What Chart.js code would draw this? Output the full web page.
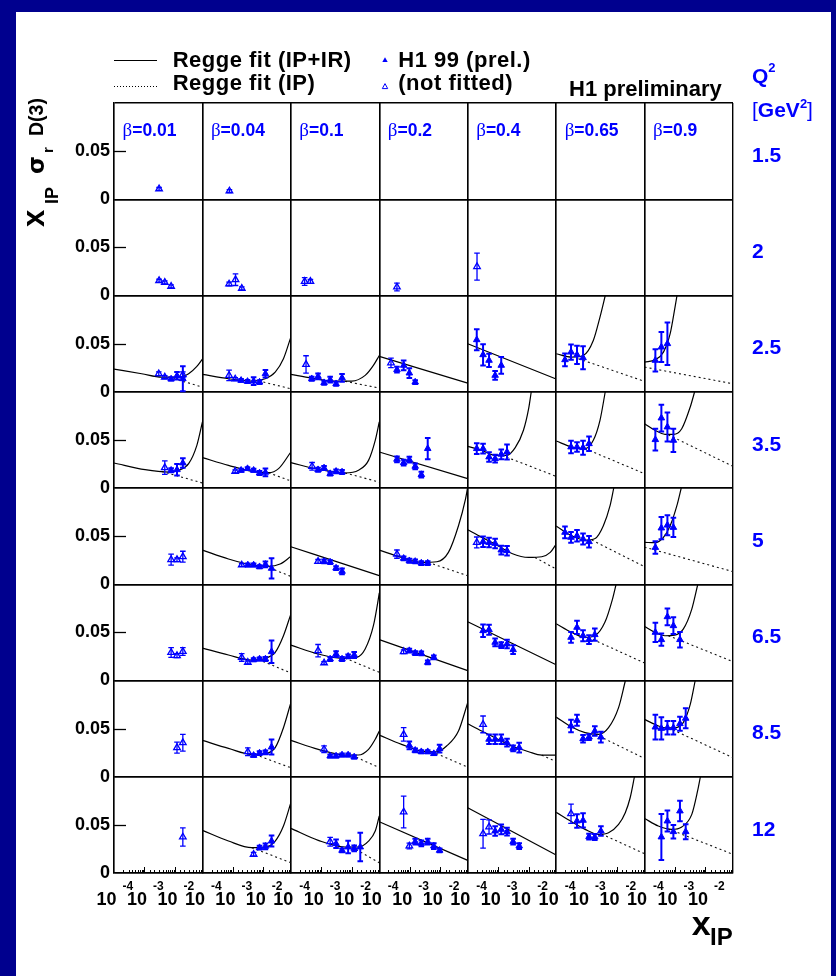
<!DOCTYPE html>
<html>
<head>
<meta charset="utf-8">
<script src="https://cdn.jsdelivr.net/npm/chart.js@4.4.1/dist/chart.umd.min.js"></script>
<style>
  html, body { margin: 0; padding: 0; }
  body { width: 836px; height: 976px; position: relative; overflow: hidden; background: #00008e;
         font-family: "Liberation Sans", Arial, Helvetica, sans-serif; }
  #sheet { position: absolute; left: 16px; top: 12px; width: 815px; height: 964px; background: #fff; }
  #plot { position: absolute; left: 0; top: 0; }
  .t { position: absolute; white-space: nowrap; line-height: 1; font-weight: bold; color: #000; }
  .blue { color: #0000ff; }
  .sym { font-family: "Liberation Serif", "DejaVu Serif", serif; font-weight: normal; }
</style>
</head>
<body>
<div id="sheet"></div>
<canvas id="plot" width="836" height="976"></canvas>
<svg style="position:absolute;left:0;top:0" width="836" height="110">
  <line x1="114" y1="60.5" x2="157" y2="60.5" stroke="#000" stroke-width="1.2"/>
  <line x1="114" y1="86.5" x2="157" y2="86.5" stroke="#000" stroke-width="1" stroke-dasharray="1,2"/>
  <polygon points="385,57.2 382.3,62 387.7,62" fill="#0000ff"/>
  <polygon points="385,83.6 382.3,88.6 387.7,88.6" fill="none" stroke="#0000ff" stroke-width="1"/>
</svg>
<script>
// columns (beta) and rows (Q2 in GeV^2)
const betaLabels = ['0.01', '0.04', '0.1', '0.2', '0.4', '0.65', '0.9'];
const q2Labels = ['1.5', '2', '2.5', '3.5', '5', '6.5', '8.5', '12'];
const decadeTicks = [1e-4, 1e-3, 1e-2];
const decadeExps = ['-4', '-3', '-2'];
const yTickValues = [0, 0.05, 0.1];
const yTickLabels = ['0', '0.05', ''];

// points per beta column: [x_IP, x_IP*sigma_r, error, fitted (1) / not fitted (0)]
const pts_Q2_1_5 = [
  [[0.00302, 0.0107, 0.0015, 0]],
  [[0.00077, 0.0085, 0.0015, 0]],
  [], [], [], [], []
];
const pts_Q2_2 = [
  [[0.00302, 0.0154, 0.0015, 0], [0.00465, 0.0136, 0.0015, 0], [0.0075, 0.0095, 0.0015, 0]],
  [[0.00075, 0.0119, 0.002, 0], [0.00122, 0.0164, 0.006, 0], [0.00196, 0.0074, 0.0015, 0]],
  [[0.000284, 0.0146, 0.004, 0], [0.000438, 0.0146, 0.002, 0]],
  [[0.00038, 0.0088, 0.004, 0]],
  [[0.000202, 0.030, 0.014, 0]],
  [], []
];
const pts_Q2_2_5 = [
  [[0.00295, 0.0187, 0.002, 0], [0.00465, 0.0152, 0.0015, 0], [0.0075, 0.0132, 0.0015, 1], [0.0117, 0.0166, 0.004, 1], [0.0182, 0.0177, 0.003, 0], [0.0182, 0.0135, 0.013, 1]],
  [[0.00075, 0.017, 0.0055, 0], [0.00119, 0.0132, 0.0015, 0], [0.00186, 0.0118, 0.0015, 1], [0.00302, 0.0107, 0.0015, 1], [0.00479, 0.0111, 0.004, 1], [0.0075, 0.01, 0.002, 1], [0.0117, 0.0187, 0.004, 1]],
  [[0.000315, 0.0284, 0.009, 0], [0.000484, 0.0135, 0.002, 1], [0.000782, 0.0159, 0.003, 1], [0.00123, 0.0094, 0.002, 1], [0.00195, 0.0125, 0.003, 1], [0.00305, 0.0083, 0.002, 1], [0.00479, 0.0145, 0.004, 1]],
  [[0.000242, 0.03, 0.005, 0], [0.00038, 0.0229, 0.003, 1], [0.000631, 0.0274, 0.005, 1], [0.00097, 0.0194, 0.005, 1], [0.00151, 0.01, 0.002, 1]],
  [[0.000198, 0.054, 0.011, 1], [0.000319, 0.0384, 0.011, 1], [0.000501, 0.0326, 0.007, 1], [0.000794, 0.017, 0.0045, 1], [0.00126, 0.0274, 0.0087, 1]],
  [[0.000195, 0.0332, 0.0066, 1], [0.000308, 0.0412, 0.008, 1], [0.000484, 0.0384, 0.0095, 1], [0.000764, 0.0353, 0.012, 1]],
  [[0.000226, 0.0326, 0.0116, 1], [0.000356, 0.0464, 0.0156, 1], [0.000562, 0.0499, 0.022, 1]]
];
const pts_Q2_3_5 = [
  [[0.00465, 0.0211, 0.007, 0], [0.0075, 0.0184, 0.002, 1], [0.0117, 0.019, 0.006, 1], [0.0182, 0.026, 0.005, 1]],
  [[0.00119, 0.0173, 0.0015, 0], [0.00186, 0.0184, 0.0015, 1], [0.00302, 0.0201, 0.0015, 1], [0.00479, 0.0184, 0.0015, 1], [0.0075, 0.0156, 0.002, 1], [0.0117, 0.0163, 0.004, 1]],
  [[0.000498, 0.0225, 0.004, 0], [0.000782, 0.019, 0.002, 1], [0.00123, 0.0208, 0.002, 1], [0.00195, 0.0149, 0.002, 1], [0.00305, 0.0173, 0.002, 1], [0.00479, 0.0166, 0.002, 1]],
  [[0.00038, 0.0298, 0.003, 1], [0.000631, 0.0263, 0.003, 1], [0.00097, 0.0294, 0.003, 1], [0.00151, 0.0225, 0.003, 1], [0.0024, 0.0139, 0.003, 1], [0.00389, 0.0409, 0.011, 1]],
  [[0.000198, 0.0409, 0.0055, 1], [0.000319, 0.0409, 0.005, 1], [0.000501, 0.0322, 0.005, 1], [0.000794, 0.0305, 0.004, 1], [0.00126, 0.035, 0.005, 1], [0.00195, 0.0374, 0.0078, 1]],
  [[0.000308, 0.0426, 0.0066, 1], [0.000484, 0.0426, 0.005, 1], [0.000764, 0.0419, 0.0073, 1], [0.0012, 0.046, 0.0076, 1]],
  [[0.000226, 0.0502, 0.0113, 1], [0.000356, 0.0727, 0.0139, 1], [0.000562, 0.0634, 0.015, 1], [0.000883, 0.0495, 0.0121, 1]]
];
const pts_Q2_5 = [
  [[0.0075, 0.0255, 0.0057, 0], [0.0117, 0.0255, 0.002, 0], [0.0182, 0.0286, 0.0057, 0]],
  [[0.00195, 0.02, 0.0015, 0], [0.00309, 0.02, 0.0015, 1], [0.00479, 0.02, 0.0015, 1], [0.0075, 0.0182, 0.0015, 1], [0.0117, 0.0206, 0.003, 1], [0.0186, 0.0165, 0.0104, 1]],
  [[0.000782, 0.0237, 0.002, 0], [0.00123, 0.0237, 0.002, 1], [0.00195, 0.023, 0.002, 1], [0.00305, 0.0168, 0.002, 1], [0.00479, 0.0134, 0.003, 1]],
  [[0.00038, 0.0313, 0.0043, 0], [0.000631, 0.0269, 0.002, 1], [0.00097, 0.0244, 0.002, 1], [0.00151, 0.0237, 0.002, 1], [0.0024, 0.022, 0.002, 1], [0.00389, 0.022, 0.002, 1]],
  [[0.000198, 0.0434, 0.0057, 0], [0.000319, 0.0442, 0.0055, 1], [0.000501, 0.0434, 0.005, 1], [0.000794, 0.0424, 0.005, 1], [0.00126, 0.0355, 0.0045, 1], [0.00195, 0.0348, 0.005, 1]],
  [[0.000195, 0.0539, 0.006, 1], [0.000308, 0.0487, 0.0055, 1], [0.000484, 0.0504, 0.006, 1], [0.000764, 0.047, 0.0057, 1], [0.0012, 0.0442, 0.006, 1]],
  [[0.000226, 0.0382, 0.0066, 1], [0.000356, 0.0584, 0.0116, 1], [0.000562, 0.0614, 0.0104, 1], [0.000883, 0.059, 0.01, 1]]
];
const pts_Q2_6_5 = [
  [[0.0075, 0.0291, 0.005, 0], [0.0117, 0.0258, 0.002, 0], [0.0182, 0.0302, 0.004, 0]],
  [[0.00195, 0.024, 0.004, 0], [0.00309, 0.0188, 0.0015, 0], [0.00479, 0.0216, 0.0015, 1], [0.0075, 0.0223, 0.0015, 1], [0.0117, 0.0223, 0.002, 1], [0.0186, 0.0299, 0.0116, 1]],
  [[0.000782, 0.031, 0.0064, 0], [0.00123, 0.0182, 0.0015, 0], [0.00195, 0.0223, 0.002, 1], [0.00305, 0.0275, 0.003, 1], [0.00479, 0.0223, 0.002, 1], [0.00759, 0.0251, 0.002, 1], [0.012, 0.0265, 0.003, 1]],
  [[0.000631, 0.0299, 0.002, 0], [0.00097, 0.031, 0.002, 1], [0.00151, 0.0285, 0.002, 1], [0.0024, 0.0282, 0.002, 1], [0.00389, 0.0188, 0.002, 1], [0.00617, 0.024, 0.002, 1]],
  [[0.000319, 0.0517, 0.0064, 1], [0.000501, 0.0528, 0.0052, 1], [0.000794, 0.0396, 0.004, 1], [0.00126, 0.0368, 0.003, 1], [0.00195, 0.0379, 0.0045, 1], [0.00309, 0.032, 0.0045, 1]],
  [[0.000308, 0.0448, 0.0055, 1], [0.000484, 0.0552, 0.007, 1], [0.000764, 0.0465, 0.0057, 1], [0.0012, 0.0424, 0.0045, 1], [0.00186, 0.0476, 0.0064, 1]],
  [[0.000226, 0.05, 0.01, 1], [0.000356, 0.0424, 0.0064, 1], [0.000562, 0.0662, 0.0087, 1], [0.000883, 0.0569, 0.0087, 1], [0.00145, 0.0424, 0.008, 1]]
];
const pts_Q2_8_5 = [
  [[0.0117, 0.0302, 0.0057, 0], [0.0182, 0.0354, 0.0087, 0]],
  [[0.00309, 0.026, 0.004, 0], [0.00479, 0.0222, 0.0015, 1], [0.0075, 0.0246, 0.002, 1], [0.0117, 0.0253, 0.002, 1], [0.0186, 0.0309, 0.0078, 1]],
  [[0.00123, 0.0285, 0.0035, 0], [0.00195, 0.0215, 0.0015, 1], [0.00305, 0.0215, 0.0015, 1], [0.00479, 0.0226, 0.0015, 1], [0.00759, 0.0226, 0.0015, 1], [0.012, 0.0205, 0.0015, 1]],
  [[0.000631, 0.044, 0.007, 0], [0.00097, 0.0326, 0.004, 1], [0.00151, 0.0274, 0.002, 1], [0.0024, 0.026, 0.0015, 1], [0.00389, 0.026, 0.0015, 1], [0.00617, 0.024, 0.0015, 1], [0.00955, 0.0292, 0.004, 1]],
  [[0.000319, 0.0544, 0.0087, 0], [0.000501, 0.0389, 0.005, 1], [0.000794, 0.0389, 0.005, 1], [0.00126, 0.0389, 0.005, 1], [0.00195, 0.0354, 0.004, 1], [0.00309, 0.0295, 0.003, 1], [0.0049, 0.0302, 0.005, 1]],
  [[0.000308, 0.0527, 0.0064, 1], [0.000484, 0.0586, 0.0057, 1], [0.000764, 0.0395, 0.004, 1], [0.0012, 0.0412, 0.003, 1], [0.00186, 0.0475, 0.005, 1], [0.00295, 0.0412, 0.0055, 1]],
  [[0.000226, 0.0516, 0.0128, 1], [0.000356, 0.0502, 0.0116, 1], [0.000562, 0.0509, 0.007, 1], [0.000883, 0.0509, 0.007, 1], [0.00145, 0.0551, 0.0073, 1], [0.00224, 0.0607, 0.0104, 1]]
];
const pts_Q2_12 = [
  [[0.0182, 0.0374, 0.0095, 0]],
  [[0.00479, 0.0194, 0.002, 0], [0.0075, 0.0263, 0.002, 1], [0.0117, 0.0277, 0.003, 1], [0.0186, 0.0332, 0.0057, 1]],
  [[0.00195, 0.0325, 0.0045, 0], [0.00305, 0.0304, 0.0045, 1], [0.00479, 0.0235, 0.002, 1], [0.00759, 0.027, 0.0064, 1], [0.012, 0.0256, 0.003, 1], [0.019, 0.027, 0.0147, 1]],
  [[0.000631, 0.0634, 0.0165, 0], [0.00097, 0.028, 0.003, 0], [0.00151, 0.0325, 0.003, 1], [0.0024, 0.0308, 0.003, 1], [0.00389, 0.0325, 0.003, 1], [0.00617, 0.028, 0.003, 1], [0.00955, 0.0235, 0.002, 1]],
  [[0.000319, 0.0408, 0.015, 0], [0.000501, 0.0478, 0.0073, 0], [0.000794, 0.0436, 0.005, 1], [0.00126, 0.0453, 0.005, 1], [0.00195, 0.0429, 0.004, 1], [0.00309, 0.0325, 0.003, 1], [0.0049, 0.028, 0.003, 1]],
  [[0.000308, 0.0616, 0.01, 0], [0.000484, 0.054, 0.007, 1], [0.000764, 0.0547, 0.0073, 1], [0.0012, 0.0377, 0.003, 1], [0.00186, 0.0374, 0.003, 1], [0.00295, 0.0436, 0.005, 1]],
  [[0.000356, 0.0374, 0.024, 1], [0.000562, 0.054, 0.011, 1], [0.000883, 0.0429, 0.007, 1], [0.00145, 0.0644, 0.0107, 1], [0.00224, 0.0429, 0.0078, 1]]
];

// Regge fit curves, [x_IP, value]; ipir = IP+IR (solid), ip = IP only (dotted)
const noFit = [[], [], [], [], [], [], []];
const ipir_Q2_2_5 = [
  [[0.0001, 0.0235], [0.00081, 0.0187], [0.00372, 0.0152], [0.0132, 0.0152], [0.0282, 0.0187], [0.0525, 0.0263], [0.08, 0.034]],
  [[0.0001, 0.018], [0.000716, 0.0135], [0.00417, 0.0111], [0.0115, 0.0135], [0.0245, 0.0204], [0.0457, 0.0343], [0.08, 0.0568]],
  [[0.0001, 0.018], [0.000479, 0.0142], [0.00219, 0.0111], [0.01, 0.0111], [0.0275, 0.017], [0.0513, 0.0274], [0.08, 0.0377]],
  [[0.0001, 0.0367], [0.08, 0.009]],
  [[0.0001, 0.0499], [0.08, 0.0132]],
  [[0.0001, 0.0395], [0.000324, 0.036], [0.000776, 0.0377], [0.00166, 0.0533], [0.00275, 0.0776], [0.0041, 0.1]],
  [[0.0001, 0.0308], [0.000219, 0.0332], [0.000417, 0.0412], [0.000692, 0.0603], [0.001, 0.088], [0.00116, 0.1]]
];
const ip_Q2_2_5 = [
  [[0.0063, 0.0152], [0.08, 0.0048]],
  [[0.00692, 0.0113], [0.08, 0.0031]],
  [[0.00603, 0.0109], [0.08, 0.0038]],
  [], [],
  [[0.000537, 0.0343], [0.08, 0.0108]],
  [[0.0001, 0.0256], [0.08, 0.0083]]
];
const ipir_Q2_3_5 = [
  [[0.0001, 0.026], [0.00105, 0.019], [0.00617, 0.0166], [0.0132, 0.0184], [0.0282, 0.0253], [0.0525, 0.0443], [0.08, 0.0686]],
  [[0.0001, 0.0315], [0.000716, 0.0235], [0.00417, 0.0173], [0.0148, 0.0159], [0.0316, 0.0201], [0.08, 0.0374]],
  [[0.0001, 0.0263], [0.000794, 0.0194], [0.00603, 0.0156], [0.0166, 0.0184], [0.0355, 0.0287], [0.0589, 0.0495], [0.08, 0.0686]],
  [[0.0001, 0.0374], [0.08, 0.0097]],
  [[0.0001, 0.0433], [0.000288, 0.0391], [0.000794, 0.034], [0.00191, 0.034], [0.00363, 0.0419], [0.00676, 0.06], [0.01, 0.0824], [0.0122, 0.1]],
  [[0.0001, 0.0488], [0.000324, 0.0426], [0.000891, 0.0409], [0.00166, 0.0495], [0.00275, 0.0703], [0.0041, 0.1]],
  [[0.0001, 0.0668], [0.000219, 0.06], [0.000468, 0.0558], [0.000891, 0.0558], [0.00166, 0.0616], [0.00316, 0.0842], [0.0044, 0.1]]
];
const ip_Q2_3_5 = [
  [[0.00372, 0.0172], [0.08, 0.0052]],
  [[0.0148, 0.0159], [0.08, 0.0073]],
  [[0.00603, 0.0156], [0.08, 0.0062]],
  [],
  [[0.00132, 0.034], [0.08, 0.0121]],
  [[0.000891, 0.0409], [0.08, 0.0149]],
  [[0.000603, 0.0552], [0.08, 0.0225]]
];
const ipir_Q2_5 = [
  [],
  [[0.0001, 0.0355], [0.000716, 0.0262], [0.00417, 0.02], [0.0148, 0.0186], [0.0355, 0.021], [0.08, 0.0289]],
  [[0.0001, 0.039], [0.08, 0.0089]],
  [[0.0001, 0.0355], [0.000537, 0.0279], [0.00245, 0.0227], [0.00776, 0.0234], [0.0186, 0.0331], [0.0398, 0.0608], [0.0676, 0.0885], [0.079, 0.1]],
  [[0.0001, 0.0566], [0.000288, 0.0487], [0.000794, 0.0417], [0.00282, 0.032], [0.01, 0.0279], [0.0269, 0.0286], [0.0513, 0.0331], [0.08, 0.0417]],
  [[0.0001, 0.0605], [0.000324, 0.0504], [0.000891, 0.0459], [0.00191, 0.0476], [0.00355, 0.0608], [0.00589, 0.0816], [0.0078, 0.1]],
  [[0.0001, 0.0435], [0.000219, 0.0432], [0.000417, 0.0487], [0.000692, 0.0608], [0.00115, 0.0816], [0.0016, 0.1]]
];
const ip_Q2_5 = [
  [],
  [[0.0115, 0.0188], [0.08, 0.0082]],
  [],
  [[0.00407, 0.0226], [0.08, 0.0089]],
  [[0.0162, 0.0278], [0.08, 0.0158]],
  [[0.00148, 0.046], [0.08, 0.0182]],
  [[0.0001, 0.0385], [0.08, 0.0131]]
];
const ipir_Q2_6_5 = [
  [],
  [[0.0001, 0.0337], [0.000716, 0.0265], [0.00417, 0.0213], [0.0115, 0.023], [0.0245, 0.0292], [0.0457, 0.0465], [0.08, 0.069]],
  [[0.0001, 0.0368], [0.000794, 0.0275], [0.00468, 0.023], [0.0145, 0.024], [0.0275, 0.0327], [0.0513, 0.0569], [0.0759, 0.0863], [0.08, 0.091]],
  [[0.0001, 0.0424], [0.08, 0.0102]],
  [[0.0001, 0.0611], [0.08, 0.0164]],
  [[0.0001, 0.059], [0.000324, 0.05], [0.000891, 0.0448], [0.00186, 0.0465], [0.00398, 0.0604], [0.00708, 0.0846], [0.0093, 0.1]],
  [[0.0001, 0.0562], [0.000219, 0.05], [0.000468, 0.0465], [0.000977, 0.0472], [0.00186, 0.0534], [0.00355, 0.0742], [0.0056, 0.1]]
];
const ip_Q2_6_5 = [
  [],
  [[0.00692, 0.0218], [0.08, 0.0078]],
  [[0.00603, 0.0232], [0.08, 0.0085]],
  [], [],
  [[0.00115, 0.0448], [0.08, 0.0181]],
  [[0.000603, 0.0466], [0.08, 0.0196]]
];
const ipir_Q2_8_5 = [
  [],
  [[0.0001, 0.0378], [0.000716, 0.0295], [0.00417, 0.0233], [0.0115, 0.024], [0.0245, 0.0302], [0.0457, 0.0509], [0.08, 0.077]],
  [[0.0001, 0.0378], [0.000794, 0.0285], [0.00603, 0.0226], [0.0166, 0.0226], [0.0355, 0.0285], [0.0589, 0.0389], [0.08, 0.0475]],
  [[0.0001, 0.0433], [0.000537, 0.0337], [0.00245, 0.0267], [0.00776, 0.026], [0.0162, 0.0319], [0.0398, 0.0475], [0.08, 0.077]],
  [[0.0001, 0.0551], [0.000288, 0.0475], [0.000794, 0.0406], [0.00282, 0.0319], [0.01, 0.026], [0.0269, 0.0225], [0.08, 0.0225]],
  [[0.0001, 0.062], [0.000324, 0.0516], [0.000891, 0.0458], [0.00245, 0.044], [0.00525, 0.051], [0.0112, 0.0718], [0.0188, 0.1]],
  [[0.0001, 0.0596], [0.000219, 0.0544], [0.000468, 0.0509], [0.000977, 0.0509], [0.00186, 0.0562], [0.00316, 0.0752], [0.0046, 0.1]]
];
const ip_Q2_8_5 = [
  [],
  [[0.00537, 0.023], [0.08, 0.0094]],
  [[0.01, 0.0224], [0.08, 0.0094]],
  [[0.00525, 0.0262], [0.08, 0.01]],
  [[0.0269, 0.0225], [0.08, 0.0157]],
  [[0.00186, 0.0444], [0.08, 0.019]],
  [[0.000603, 0.0509], [0.08, 0.0198]]
];
const ipir_Q2_12 = [
  [],
  [[0.0001, 0.0443], [0.000716, 0.0332], [0.00417, 0.0263], [0.0115, 0.027], [0.0245, 0.0332], [0.0457, 0.0488], [0.08, 0.073]],
  [[0.0001, 0.0464], [0.000794, 0.0339], [0.00603, 0.027], [0.0166, 0.027], [0.0355, 0.0332], [0.0589, 0.0436], [0.08, 0.0592]],
  [[0.0001, 0.0533], [0.08, 0.0131]],
  [[0.0001, 0.0678], [0.08, 0.0187]],
  [[0.0001, 0.063], [0.000324, 0.0533], [0.000891, 0.0453], [0.00245, 0.0401], [0.00525, 0.0418], [0.0112, 0.0505], [0.0186, 0.0627], [0.0269, 0.0782], [0.0372, 0.1]],
  [[0.0001, 0.0567], [0.000282, 0.0488], [0.000776, 0.0453], [0.00166, 0.0478], [0.00355, 0.0609], [0.0055, 0.0852], [0.0068, 0.1]]
];
const ip_Q2_12 = [
  [],
  [[0.00417, 0.0263], [0.08, 0.0107]],
  [[0.01, 0.0268], [0.08, 0.0107]],
  [], [],
  [[0.00309, 0.0405], [0.08, 0.02]],
  [[0.000603, 0.0458], [0.08, 0.0194]]
];

const pointRows = [pts_Q2_1_5, pts_Q2_2, pts_Q2_2_5, pts_Q2_3_5, pts_Q2_5, pts_Q2_6_5, pts_Q2_8_5, pts_Q2_12];
const ipirRows = [noFit, noFit, ipir_Q2_2_5, ipir_Q2_3_5, ipir_Q2_5, ipir_Q2_6_5, ipir_Q2_8_5, ipir_Q2_12];
const ipRows = [noFit, noFit, ip_Q2_2_5, ip_Q2_3_5, ip_Q2_5, ip_Q2_6_5, ip_Q2_8_5, ip_Q2_12];

const BLUE = '#0000ff';
const FONT = '"Liberation Sans", Arial, Helvetica, sans-serif';
const AREA = { left: 114, top: 103, right: 733, bottom: 873 };
const colW = (AREA.right - AREA.left) / betaLabels.length;
const rowH = (AREA.bottom - AREA.top) / q2Labels.length;

Chart.defaults.font.family = FONT;

const edgeOnly = ctx => (ctx.index === 0 || ctx.index === ctx.scale.ticks.length - 1) ? '#000' : 'rgba(0,0,0,0)';

const scales = {};
betaLabels.forEach((b, c) => {
  scales['x' + c] = {
    type: 'logarithmic', position: 'bottom', stack: 'cols', stackWeight: 1, weight: c,
    min: 1e-4, max: 0.08,
    ticks: { display: false },
    grid: { drawTicks: false, lineWidth: 1.4, color: edgeOnly },
    border: { color: '#000', width: 1.4 },
    afterFit: s => { s.height = 40; }
  };
});
q2Labels.forEach((q, r) => {
  scales['y' + r] = {
    type: 'linear', position: 'left', stack: 'rows', stackWeight: 1, weight: q2Labels.length - r,
    min: 0, max: 0.1,
    afterBuildTicks: s => { s.ticks = yTickValues.map(value => ({ value })); },
    ticks: { autoSkip: false, padding: 4, color: '#000', font: { size: 18, weight: 'bold' },
             callback: (v, i) => yTickLabels[i] },
    grid: { drawTicks: false, lineWidth: 1.4, color: edgeOnly },
    border: { color: '#000', width: 1.4 },
    afterFit: s => { s.width = 60; }
  };
});

const datasets = [];
pointRows.forEach((row, r) => row.forEach((list, c) => {
  const axes = { xAxisID: 'x' + c, yAxisID: 'y' + r };
  const ip = ipRows[r][c], ipir = ipirRows[r][c];
  if (ip.length) {
    datasets.push({ ...axes, data: ip.map(([x, y]) => ({ x, y })), borderColor: '#111', borderWidth: 1.1,
      borderDash: [2, 3], pointRadius: 0, order: 3 });
  }
  if (ipir.length) {
    datasets.push({ ...axes, data: ipir.map(([x, y]) => ({ x, y })), borderColor: '#000', borderWidth: 1.2,
      pointRadius: 0, cubicInterpolationMode: 'monotone', order: 2 });
  }
  [1, 0].forEach(f => {
    const sel = list.filter(p => p[3] === f);
    if (!sel.length) return;
    datasets.push({ ...axes, showLine: false, data: sel.map(p => ({ x: p[0], y: p[1] })),
      errors: sel.map(p => p[2]), fitted: f,
      pointStyle: 'triangle', pointRadius: 3.8, pointBorderWidth: f ? 1 : 1.3,
      pointBackgroundColor: f ? BLUE : 'rgba(255,255,255,0)', pointBorderColor: BLUE,
      borderColor: BLUE, order: 1 });
  });
}));

// vertical error bars, drawn with the panel's own y scale
const errorBars = {
  id: 'errorBars',
  beforeDatasetDraw(chart, args) {
    const ds = chart.data.datasets[args.index];
    if (!ds.errors) return;
    const y = chart.scales[ds.yAxisID];
    const ctx = chart.ctx;
    ctx.save();
    ctx.strokeStyle = BLUE;
    ctx.lineWidth = ds.fitted ? 2 : 1.3;
    args.meta.data.forEach((pt, j) => {
      const v = ds.data[j].y, e = ds.errors[j];
      const top = y.getPixelForValue(v + e), bot = y.getPixelForValue(v - e);
      ctx.beginPath();
      ctx.moveTo(pt.x, top); ctx.lineTo(pt.x, bot);
      ctx.moveTo(pt.x - 2.8, top); ctx.lineTo(pt.x + 2.8, top);
      ctx.moveTo(pt.x - 2.8, bot); ctx.lineTo(pt.x + 2.8, bot);
      ctx.stroke();
    });
    ctx.restore();
  }
};

// inner tick marks and the 10^n labels under each column
const frameMarks = {
  id: 'frameMarks',
  afterDraw(chart) {
    const { ctx, chartArea: a } = chart;
    ctx.save();
    ctx.strokeStyle = '#000';
    ctx.lineWidth = 1.3;
    q2Labels.forEach((q, r) => {
      const py = Math.round(chart.scales['y' + r].getPixelForValue(0.05)) + 0.5;
      ctx.beginPath(); ctx.moveTo(a.left, py); ctx.lineTo(a.left + 12, py); ctx.stroke();
    });
    ctx.lineWidth = 1;
    betaLabels.forEach((b, c) => {
      const s = chart.scales['x' + c];
      s.ticks.slice(1, -1).forEach(t => {
        const lg = Math.log10(t.value);
        const major = Math.abs(lg - Math.round(lg)) < 1e-6;
        const px = Math.round(s.getPixelForValue(t.value)) + 0.5;
        ctx.beginPath(); ctx.moveTo(px, a.bottom); ctx.lineTo(px, a.bottom - (major ? 6 : 3)); ctx.stroke();
      });
      ctx.fillStyle = '#000';
      decadeTicks.forEach((v, k) => {
        const px = s.getPixelForValue(v);
        ctx.font = 'bold 18px ' + FONT;
        ctx.textAlign = 'right';
        ctx.fillText('10', px + 2.5, a.bottom + 31.5);
        ctx.font = 'bold 12px ' + FONT;
        ctx.textAlign = 'left';
        ctx.fillText(decadeExps[k], px + 8.5, a.bottom + 17);
      });
    });
    ctx.restore();
  }
};

new Chart(document.getElementById('plot'), {
  type: 'line',
  data: { datasets },
  options: {
    responsive: false,
    animation: false,
    events: [],
    layout: { padding: { left: AREA.left - 60, top: AREA.top, right: 836 - AREA.right, bottom: 976 - AREA.bottom - 40 } },
    plugins: { legend: { display: false }, tooltip: { enabled: false } },
    scales
  },
  plugins: [errorBars, frameMarks]
});

// text placed by its baseline
function put(html, left, baseline, size, cls = '', style = '', parent = document.body) {
  const d = document.createElement('div');
  d.className = 't ' + cls;
  d.style.cssText = `left:${left}px;top:${baseline - 0.8465 * size}px;font-size:${size}px;${style}`;
  d.innerHTML = html;
  parent.appendChild(d);
  return d;
}

// legend and header
put('Regge fit (IP+IR)', 172.7, 67.7, 22, '', 'letter-spacing:0.5px');
put('Regge fit (IP)', 172.7, 91, 22, '', 'letter-spacing:0.5px');
put('H1 99 (prel.)', 398.3, 67.7, 22, '', 'letter-spacing:0.5px');
put('(not fitted)', 398.3, 91, 22, '', 'letter-spacing:0.5px');
put('H1 preliminary', 569, 96.7, 22);
put('Q<span style="position:relative;top:-11px;font-size:13px">2</span>', 752, 83, 21, 'blue');
put('<span style="font-weight:normal">[</span>GeV<span style="position:relative;top:-9px;font-size:13px">2</span><span style="font-weight:normal">]</span>', 752, 117, 21, 'blue');

betaLabels.forEach((b, c) => {
  put(`<span class="sym" style="font-size:19px">β</span>=${b}`, AREA.left + c * colW + 8.5, 135, 17.5, 'blue');
});
q2Labels.forEach((q, r) => {
  put(q, 752, AREA.top + r * rowH + 58.6, 21, 'blue');
});

// axis titles
const yTitle = document.createElement('div');
yTitle.style.cssText = 'position:absolute;left:0;top:226.7px;width:0;height:0;transform-origin:0 0;transform:rotate(-90deg);';
document.body.appendChild(yTitle);
put('x', 0, 44.7, 31, '', '', yTitle);
put('IP', 23, 58, 18, '', '', yTitle);
put('σ', 53, 44.7, 23, '', 'font-family:"DejaVu Sans",sans-serif', yTitle);
put('r', 74, 53, 15, '', '', yTitle);
put('D(3)', 91, 43.5, 19.5, '', '', yTitle);

put('x', 691.7, 935, 34);
put('IP', 710, 945, 24);
</script>
</body>
</html>
